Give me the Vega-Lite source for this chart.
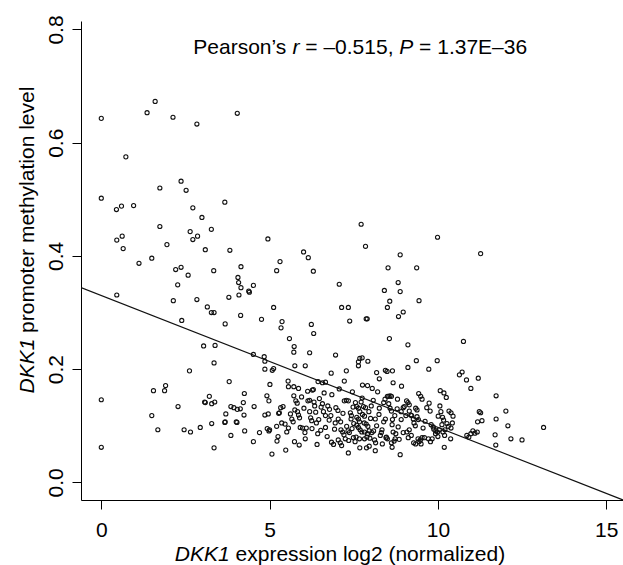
{
"$schema": "https://vega.github.io/schema/vega-lite/v6.json",
"width": 542, "height": 479,
"autosize": {"type": "none"},
"padding": {"left": 81, "top": 21, "right": 0, "bottom": 65},
"background": "white",
"config": {
  "view": {"stroke": null},
  "font": "Liberation Sans",
  "text": {"font": "Liberation Sans", "fontSize": 21, "color": "#000", "align": "left", "baseline": "alphabetic"},
  "axis": {"domainColor": "#000", "domainWidth": 1, "tickColor": "#000", "tickWidth": 1, "tickSize": 9, "grid": false,
           "labelFont": "Liberation Sans", "labelFontSize": 21, "labelFontWeight": "normal", "labelColor": "#000",
           "titleFont": "Liberation Sans", "titleFontSize": 21, "titleFontWeight": "normal", "titleColor": "#000"}
},
"datasets": {
"pts": [
{"x":0,"y":0.643},{"x":1.36,"y":0.653},{"x":1.60,"y":0.673},{"x":2.13,"y":0.645},{"x":2.84,"y":0.633},{"x":4.04,"y":0.652},{"x":0.73,"y":0.575},{"x":0,"y":0.502},{"x":1.74,"y":0.520},{"x":2.37,"y":0.532},{"x":2.52,"y":0.516},{"x":3.67,"y":0.495},{"x":0.45,"y":0.482},{"x":0.60,"y":0.488},{"x":0.96,"y":0.489},{"x":2.72,"y":0.485},{"x":2.99,"y":0.468},{"x":1.74,"y":0.452},{"x":0.46,"y":0.428},{"x":0.62,"y":0.435},{"x":0.65,"y":0.413},{"x":2.64,"y":0.443},{"x":2.86,"y":0.435},{"x":2.72,"y":0.429},{"x":3.27,"y":0.447},{"x":1.95,"y":0.420},{"x":3.09,"y":0.411},{"x":3.82,"y":0.410},{"x":4.95,"y":0.430},{"x":6.01,"y":0.407},{"x":6.15,"y":0.397},{"x":5.31,"y":0.390},{"x":6.30,"y":0.373},{"x":5.21,"y":0.374},{"x":7.72,"y":0.456},{"x":7.85,"y":0.417},{"x":9.99,"y":0.433},{"x":8.88,"y":0.402},{"x":11.27,"y":0.404},{"x":1.50,"y":0.396},{"x":1.12,"y":0.387},{"x":2.21,"y":0.376},{"x":2.37,"y":0.380},{"x":2.58,"y":0.366},{"x":2.27,"y":0.349},{"x":3.34,"y":0.374},{"x":4.15,"y":0.381},{"x":4.06,"y":0.362},{"x":4.08,"y":0.353},{"x":4.15,"y":0.344},{"x":4.38,"y":0.338},{"x":4.40,"y":0.336},{"x":4.52,"y":0.348},{"x":4.09,"y":0.331},{"x":3.79,"y":0.327},{"x":2.84,"y":0.323},{"x":2.14,"y":0.321},{"x":0.46,"y":0.331},{"x":3.15,"y":0.310},{"x":3.27,"y":0.300},{"x":3.35,"y":0.300},{"x":4.14,"y":0.295},{"x":2.39,"y":0.286},{"x":3.68,"y":0.280},{"x":4.76,"y":0.288},{"x":5.12,"y":0.309},{"x":5.37,"y":0.284},{"x":5.34,"y":0.273},{"x":6.24,"y":0.279},{"x":6.31,"y":0.263},{"x":5.59,"y":0.254},{"x":7.07,"y":0.350},{"x":7.14,"y":0.309},{"x":7.34,"y":0.309},{"x":7.38,"y":0.285},{"x":7.87,"y":0.289},{"x":7.90,"y":0.289},{"x":8.52,"y":0.379},{"x":8.82,"y":0.353},{"x":8.88,"y":0.337},{"x":8.41,"y":0.339},{"x":8.57,"y":0.320},{"x":8.50,"y":0.309},{"x":8.83,"y":0.293},{"x":8.97,"y":0.301},{"x":9.37,"y":0.379},{"x":9.44,"y":0.321},{"x":8.56,"y":0.254},{"x":9.11,"y":0.243},{"x":10.76,"y":0.249},
{"x":3.04,"y":0.241},{"x":3.38,"y":0.242},{"x":5.73,"y":0.240},{"x":5.72,"y":0.230},{"x":4.52,"y":0.226},{"x":4.84,"y":0.222},{"x":4.86,"y":0.214},{"x":6.19,"y":0.229},{"x":6.96,"y":0.225},{"x":7.68,"y":0.219},{"x":7.75,"y":0.220},{"x":7.64,"y":0.213},{"x":7.92,"y":0.214},{"x":7.64,"y":0.206},{"x":9.36,"y":0.215},{"x":9.98,"y":0.215},{"x":3.35,"y":0.211},{"x":2.62,"y":0.197},{"x":4.86,"y":0.200},{"x":5.12,"y":0.201},{"x":5.08,"y":0.198},{"x":5.75,"y":0.206},{"x":6.06,"y":0.206},{"x":6.83,"y":0.193},{"x":7.28,"y":0.197},{"x":8.44,"y":0.198},{"x":8.49,"y":0.196},{"x":8.65,"y":0.197},{"x":8.18,"y":0.194},{"x":9.11,"y":0.203},{"x":9.73,"y":0.200},{"x":10.64,"y":0.190},{"x":10.72,"y":0.195},{"x":10.85,"y":0.181},{"x":10.98,"y":0.166},{"x":11.20,"y":0.184},{"x":8.26,"y":0.183},{"x":6.44,"y":0.178},{"x":6.57,"y":0.176},{"x":6.66,"y":0.177},{"x":5.55,"y":0.179},{"x":7.22,"y":0.179},{"x":7.76,"y":0.172},{"x":7.91,"y":0.171},{"x":8.67,"y":0.176},{"x":3.80,"y":0.178},{"x":1.91,"y":0.171},{"x":1.88,"y":0.162},{"x":1.55,"y":0.162},{"x":5.01,"y":0.173},{"x":8.92,"y":0.170},
{"x":0,"y":0.146},{"x":0,"y":0.062},{"x":1.50,"y":0.118},{"x":1.68,"y":0.093},{"x":2.28,"y":0.134},{"x":2.46,"y":0.093},{"x":2.65,"y":0.089},{"x":2.94,"y":0.097},{"x":3.07,"y":0.142},{"x":3.09,"y":0.141},{"x":3.21,"y":0.152},{"x":3.28,"y":0.139},{"x":3.37,"y":0.142},{"x":3.35,"y":0.061},{"x":3.28,"y":0.104},{"x":3.67,"y":0.106},{"x":3.68,"y":0.107},{"x":3.70,"y":0.121},{"x":3.85,"y":0.083},{"x":3.85,"y":0.134},{"x":3.94,"y":0.132},{"x":4.04,"y":0.129},{"x":4.13,"y":0.130},{"x":4.01,"y":0.107},{"x":4.03,"y":0.106},{"x":4.22,"y":0.141},{"x":4.25,"y":0.157},{"x":4.26,"y":0.091},{"x":4.24,"y":0.119},{"x":4.52,"y":0.072},{"x":4.54,"y":0.134},{"x":4.70,"y":0.088},{"x":4.92,"y":0.153},{"x":4.98,"y":0.144},{"x":4.96,"y":0.121},{"x":4.86,"y":0.119},{"x":4.93,"y":0.095},{"x":4.98,"y":0.091},{"x":5.00,"y":0.093},{"x":5.07,"y":0.050},{"x":5.21,"y":0.099},{"x":5.25,"y":0.081},{"x":5.27,"y":0.122},{"x":5.29,"y":0.123},{"x":5.33,"y":0.132},{"x":5.40,"y":0.134},{"x":5.22,"y":0.073},{"x":5.36,"y":0.105},{"x":5.48,"y":0.057},{"x":5.56,"y":0.169},{"x":5.46,"y":0.103},{"x":5.51,"y":0.089},{"x":5.56,"y":0.096},{"x":5.66,"y":0.112},{"x":5.70,"y":0.107},{"x":5.72,"y":0.169},{"x":5.72,"y":0.153},{"x":5.74,"y":0.072},{"x":5.75,"y":0.128},{"x":5.78,"y":0.144},{"x":5.82,"y":0.140},{"x":5.86,"y":0.166},{"x":5.83,"y":0.125},{"x":5.86,"y":0.119},{"x":5.89,"y":0.114},{"x":5.91,"y":0.097},{"x":5.98,"y":0.096},{"x":5.88,"y":0.066},{"x":6.06,"y":0.077},{"x":6.09,"y":0.096},{"x":6.13,"y":0.161},{"x":6.14,"y":0.144},{"x":6.19,"y":0.145},{"x":6.19,"y":0.125},{"x":6.22,"y":0.114},{"x":6.25,"y":0.109},{"x":6.26,"y":0.095},{"x":6.27,"y":0.163},{"x":6.30,"y":0.164},{"x":6.32,"y":0.142},{"x":6.34,"y":0.135},{"x":6.37,"y":0.124},{"x":6.39,"y":0.105},{"x":6.43,"y":0.086},{"x":6.41,"y":0.067},{"x":6.46,"y":0.111},{"x":6.53,"y":0.133},{"x":6.57,"y":0.139},{"x":6.48,"y":0.148},{"x":6.60,"y":0.125},{"x":6.66,"y":0.118},{"x":6.66,"y":0.097},{"x":6.73,"y":0.135},{"x":6.78,"y":0.129},{"x":6.82,"y":0.118},{"x":6.85,"y":0.155},{"x":6.77,"y":0.110},{"x":6.84,"y":0.071},{"x":6.90,"y":0.067},{"x":6.93,"y":0.094},{"x":6.97,"y":0.132},{"x":7.03,"y":0.127},{"x":7.07,"y":0.165},{"x":7.04,"y":0.112},{"x":7.11,"y":0.107},{"x":7.12,"y":0.093},{"x":7.17,"y":0.089},{"x":7.04,"y":0.075},{"x":7.10,"y":0.070},{"x":7.14,"y":0.065},{"x":7.22,"y":0.144},{"x":7.28,"y":0.145},{"x":7.34,"y":0.144},{"x":7.29,"y":0.099},{"x":7.33,"y":0.091},{"x":7.37,"y":0.088},{"x":7.34,"y":0.052},{"x":7.25,"y":0.077},{"x":7.35,"y":0.074},{"x":7.40,"y":0.123},{"x":7.43,"y":0.118},{"x":7.42,"y":0.112},{"x":7.46,"y":0.160},{"x":7.48,"y":0.133},{"x":7.50,"y":0.104},{"x":7.49,"y":0.079},{"x":7.54,"y":0.072},{"x":7.59,"y":0.134},{"x":7.64,"y":0.131},{"x":7.68,"y":0.125},{"x":7.59,"y":0.115},{"x":7.64,"y":0.112},{"x":7.67,"y":0.107},{"x":7.59,"y":0.101},{"x":7.64,"y":0.097},{"x":7.69,"y":0.093},{"x":7.74,"y":0.089},{"x":7.57,"y":0.080},{"x":7.67,"y":0.077},{"x":7.68,"y":0.061},{"x":7.75,"y":0.149},{"x":7.79,"y":0.134},{"x":7.85,"y":0.132},{"x":7.76,"y":0.120},{"x":7.82,"y":0.117},{"x":7.81,"y":0.105},{"x":7.87,"y":0.103},{"x":7.92,"y":0.099},{"x":7.82,"y":0.089},{"x":7.91,"y":0.086},{"x":7.96,"y":0.091},{"x":7.82,"y":0.077},{"x":7.89,"y":0.080},{"x":7.88,"y":0.061},{"x":7.96,"y":0.064},{"x":7.95,"y":0.125},{"x":8.00,"y":0.113},{"x":8.04,"y":0.088},{"x":8.09,"y":0.091},{"x":8.05,"y":0.166},{"x":8.08,"y":0.145},{"x":8.12,"y":0.075},{"x":8.15,"y":0.070},{"x":8.14,"y":0.056},{"x":8.14,"y":0.112},{"x":8.18,"y":0.100},{"x":8.21,"y":0.160},{"x":8.26,"y":0.131},{"x":8.29,"y":0.083},{"x":8.32,"y":0.088},{"x":8.34,"y":0.093},{"x":8.39,"y":0.107},{"x":8.44,"y":0.112},{"x":8.39,"y":0.141},{"x":8.43,"y":0.147},{"x":8.46,"y":0.079},{"x":8.47,"y":0.080},{"x":8.50,"y":0.077},{"x":8.50,"y":0.152},{"x":8.54,"y":0.152},{"x":8.58,"y":0.153},{"x":8.62,"y":0.152},{"x":8.54,"y":0.139},{"x":8.58,"y":0.131},{"x":8.62,"y":0.126},{"x":8.65,"y":0.111},{"x":8.64,"y":0.102},{"x":8.62,"y":0.070},{"x":8.70,"y":0.073},{"x":8.73,"y":0.077},{"x":8.64,"y":0.062},{"x":8.67,"y":0.089},{"x":8.75,"y":0.086},{"x":8.80,"y":0.147},{"x":8.79,"y":0.130},{"x":8.82,"y":0.098},{"x":8.88,"y":0.049},{"x":8.91,"y":0.125},{"x":8.97,"y":0.132},{"x":9.00,"y":0.134},{"x":8.91,"y":0.111},{"x":8.97,"y":0.088},{"x":9.07,"y":0.144},{"x":9.11,"y":0.141},{"x":9.15,"y":0.137},{"x":9.08,"y":0.089},{"x":9.15,"y":0.093},{"x":9.15,"y":0.126},{"x":9.20,"y":0.119},{"x":9.22,"y":0.118},{"x":9.27,"y":0.112},{"x":9.29,"y":0.105},{"x":9.28,"y":0.070},{"x":9.34,"y":0.068},{"x":9.33,"y":0.100},{"x":9.34,"y":0.131},{"x":9.38,"y":0.128},{"x":9.38,"y":0.116},{"x":9.42,"y":0.111},{"x":9.43,"y":0.157},{"x":9.49,"y":0.152},{"x":9.41,"y":0.077},{"x":9.48,"y":0.075},{"x":9.53,"y":0.079},{"x":9.44,"y":0.072},{"x":9.50,"y":0.068},{"x":9.53,"y":0.147},{"x":9.60,"y":0.079},{"x":9.56,"y":0.096},{"x":9.74,"y":0.140},{"x":9.77,"y":0.126},{"x":9.72,"y":0.077},{"x":9.78,"y":0.072},{"x":9.83,"y":0.077},{"x":9.80,"y":0.102},{"x":9.86,"y":0.098},{"x":9.88,"y":0.094},{"x":9.94,"y":0.091},{"x":9.99,"y":0.089},{"x":10.04,"y":0.093},{"x":9.93,"y":0.086},{"x":10.00,"y":0.081},{"x":10.01,"y":0.117},{"x":10.07,"y":0.162},{"x":10.18,"y":0.158},{"x":10.25,"y":0.150},{"x":10.09,"y":0.125},{"x":10.14,"y":0.115},{"x":10.17,"y":0.110},{"x":10.12,"y":0.102},{"x":10.19,"y":0.062},{"x":10.21,"y":0.093},{"x":10.15,"y":0.089},{"x":10.20,"y":0.083},{"x":10.27,"y":0.104},{"x":10.31,"y":0.099},{"x":10.39,"y":0.096},{"x":10.33,"y":0.126},{"x":10.39,"y":0.123},{"x":10.45,"y":0.117},{"x":10.38,"y":0.077},{"x":10.43,"y":0.105},{"x":10.86,"y":0.083},{"x":10.92,"y":0.080},{"x":10.98,"y":0.086},{"x":11.04,"y":0.091},{"x":11.10,"y":0.087},{"x":11.17,"y":0.089},{"x":11.18,"y":0.107},{"x":11.23,"y":0.125},{"x":11.31,"y":0.109},{"x":11.27,"y":0.123},{"x":11.73,"y":0.153},{"x":11.73,"y":0.112},{"x":11.70,"y":0.084},{"x":11.72,"y":0.066},{"x":12.02,"y":0.126},{"x":12.08,"y":0.100},{"x":12.17,"y":0.077},{"x":12.50,"y":0.075},{"x":13.14,"y":0.097},
{"x":5.62,"y":0.121},{"x":6.02,"y":0.131},{"x":6.52,"y":0.092},{"x":6.71,"y":0.081},{"x":6.95,"y":0.105},{"x":7.18,"y":0.122},{"x":7.21,"y":0.084},{"x":7.45,"y":0.095},{"x":7.72,"y":0.142},{"x":7.98,"y":0.078},{"x":8.25,"y":0.120},{"x":8.35,"y":0.068},{"x":8.72,"y":0.118},{"x":8.85,"y":0.076},{"x":9.05,"y":0.118},{"x":9.21,"y":0.083},{"x":9.62,"y":0.108},{"x":9.67,"y":0.132},{"x":10.06,"y":0.135},{"x":6.05,"y":0.088},{"x":5.95,"y":0.151},{"x":6.62,"y":0.158},{"x":7.55,"y":0.141},{"x":8.02,"y":0.135},{"x":9.12,"y":0.079}
],
"fit": [{"x": -0.603, "y": 0.344}, {"x": 15.5, "y": -0.0311}]
},
"layer": [
  {
    "data": {"name": "pts"},
    "mark": {"type": "point", "shape": "circle", "filled": false, "size": 17, "strokeWidth": 1.1, "color": "#111", "opacity": 1},
    "encoding": {
      "x": {"field": "x", "type": "quantitative", "title": null,
            "scale": {"domain": [-0.603, 15.5], "nice": false, "zero": false},
            "axis": {"values": [0, 5, 10, 15], "labelPadding": 10, "labelFlush": false, "labelOverlap": false}},
      "y": {"field": "y", "type": "quantitative", "title": null,
            "scale": {"domain": [-0.0311, 0.815], "nice": false, "zero": false},
            "axis": {"values": [0, 0.2, 0.4, 0.6, 0.8], "format": ".1f", "labelAngle": 270, "labelAlign": "center",
                     "labelBaseline": "alphabetic", "labelPadding": 10, "labelFlush": false, "labelOverlap": false}}
    }
  },
  {
    "data": {"name": "fit"},
    "mark": {"type": "line", "color": "#111", "strokeWidth": 1.2, "clip": true},
    "encoding": {
      "x": {"field": "x", "type": "quantitative", "title": null},
      "y": {"field": "y", "type": "quantitative", "title": null}
    }
  },
  {
    "data": {"values": [{}]},
    "mark": {"type": "text", "text": "Pearson’s"},
    "encoding": {"x": {"datum": 2.734, "type": "quantitative"}, "y": {"datum": 0.756, "type": "quantitative"}}
  },
  {
    "data": {"values": [{}]},
    "mark": {"type": "text", "text": "r", "fontStyle": "italic"},
    "encoding": {"x": {"datum": 5.682, "type": "quantitative"}, "y": {"datum": 0.756, "type": "quantitative"}}
  },
  {
    "data": {"values": [{}]},
    "mark": {"type": "text", "text": "= –0.515,"},
    "encoding": {"x": {"datum": 6.062, "type": "quantitative"}, "y": {"datum": 0.756, "type": "quantitative"}}
  },
  {
    "data": {"values": [{}]},
    "mark": {"type": "text", "text": "P", "fontStyle": "italic"},
    "encoding": {"x": {"datum": 8.852, "type": "quantitative"}, "y": {"datum": 0.756, "type": "quantitative"}}
  },
  {
    "data": {"values": [{}]},
    "mark": {"type": "text", "text": "= 1.37E–36"},
    "encoding": {"x": {"datum": 9.442, "type": "quantitative"}, "y": {"datum": 0.756, "type": "quantitative"}}
  },
  {
    "data": {"values": [{}]},
    "mark": {"type": "text", "text": "DKK1", "fontStyle": "italic"},
    "encoding": {"x": {"datum": 2.184, "type": "quantitative"}, "y": {"datum": -0.1385, "type": "quantitative"}}
  },
  {
    "data": {"values": [{}]},
    "mark": {"type": "text", "text": "expression log2 (normalized)"},
    "encoding": {"x": {"datum": 3.988, "type": "quantitative"}, "y": {"datum": -0.1385, "type": "quantitative"}}
  },
  {
    "data": {"values": [{}]},
    "mark": {"type": "text", "text": "DKK1", "fontStyle": "italic", "angle": 270},
    "encoding": {"x": {"datum": -2.0, "type": "quantitative"}, "y": {"datum": 0.157, "type": "quantitative"}}
  },
  {
    "data": {"values": [{}]},
    "mark": {"type": "text", "text": "promoter methylation level", "angle": 270},
    "encoding": {"x": {"datum": -2.0, "type": "quantitative"}, "y": {"datum": 0.264, "type": "quantitative"}}
  }
]
}
